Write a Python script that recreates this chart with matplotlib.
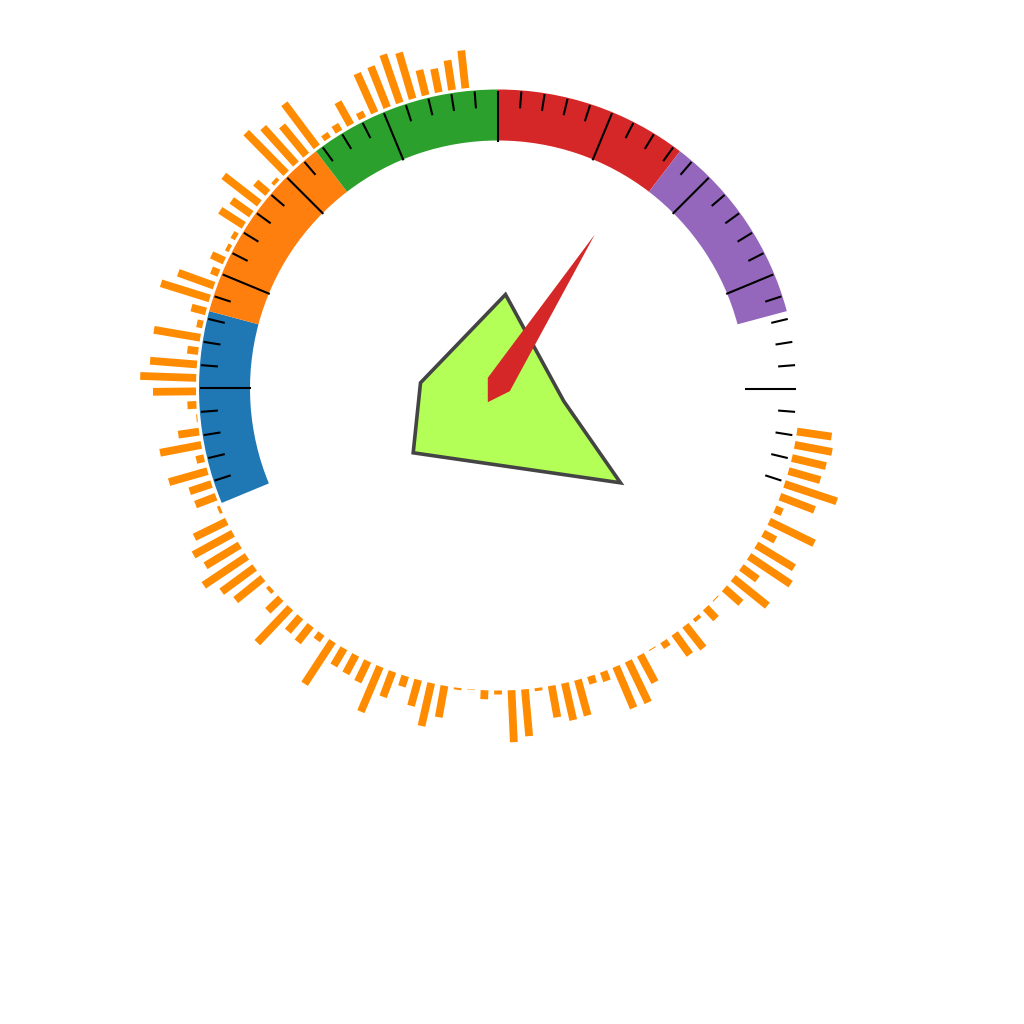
import numpy as np
import matplotlib
matplotlib.use("Agg")
from matplotlib import pyplot as plt
from matplotlib.patches import Wedge, Polygon

# --- data ---
# gauge scale: 225 degree sweep split into 6 equal bands (last one left blank)
band_edges = [202.5, 165.0, 127.5, 90.0, 52.5, 15.0, -22.5]
band_colors = ['#1f77b4', '#ff7f0e', '#2ca02c', '#d62728', '#9467bd', None]

# outer orange bars, lengths read going counter-clockwise from the top
bar_lengths = [38, 30, 24, 26, 48, 51, 44, 43, 7, 26, 8, 6, 54, 38, 49, 57, 4,
               16, 45, 24, 28, 5, 4, 14, 8, 38, 51, 15, 6, 47, 11, 47, 56, 43,
               9, 1, 21, 42, 8, 40, 23, 22, 3, 36, 45, 40, 52, 41, 35, 4, 18,
               48, 19, 21, 8, 51, 20, 21, 23, 49, 27, 11, 27, 44, 32, 2, 0.5,
               9, 4, 52, 47, 3, 32, 38, 37, 8, 10, 45, 46, 31, 1, 7, 26, 29,
               4, 15, 1, 22, 44, 20, 50, 44, 14, 50, 8, 37, 55, 33, 35, 38, 35]
bar_first_angle = 96.2
bar_last_angle = 351.8

# inner shape and needle (offsets from gauge centre, y up)
shape_x = [7.5, 65.8, 122.5, -84.8, -77.5]
shape_y = [94.0, -12.7, -94.3, -64.3, 5.7]
needle_x = [-10.2, 96.8, 11.8, -10.2]
needle_y = [10.7, 154.0, -2.7, -13.7]

# --- figure ---
fig = plt.figure(figsize=(10.24, 10.24), dpi=100)
ax = fig.add_axes([0, 0, 1, 1])
cx, cy = 498.0, 388.5  # centre in pixels (from top-left)
ax.set_xlim(-cx, 1024 - cx)
ax.set_ylim(-(1024 - cy), cy)
ax.set_aspect('equal')
ax.axis('off')

r_out = 299
r_in = 248

# coloured bands
for i, col in enumerate(band_colors):
    if col is None:
        continue
    ax.add_patch(Wedge((0, 0), r_out, band_edges[i + 1], band_edges[i],
                       width=r_out - r_in, facecolor=col, edgecolor='none'))

# ticks: major every 22.5, minor every 4.5 deg, ends left out
step = 4.5
for k in range(1, 50):
    a = np.deg2rad(band_edges[0] - k * step)
    r0 = r_in - 1 if k % 5 == 0 else 281
    ax.plot([r0 * np.cos(a), (r_out - 1) * np.cos(a)],
            [r0 * np.sin(a), (r_out - 1) * np.sin(a)],
            color='black', lw=1.5, solid_capstyle='butt')

# orange bars around the outside
angles = np.deg2rad(np.linspace(bar_first_angle, bar_last_angle, len(bar_lengths)))
r_base = 302
for a, L in zip(angles, bar_lengths):
    ax.plot([r_base * np.cos(a), (r_base + L) * np.cos(a)],
            [r_base * np.sin(a), (r_base + L) * np.sin(a)],
            color='#ff8c00', lw=5.6, solid_capstyle='butt')

# inner polygon
ax.add_patch(Polygon(np.column_stack([shape_x, shape_y]), closed=True,
                     facecolor='#b3ff57', edgecolor='#444444', lw=2.6,
                     joinstyle='miter'))

# needle
ax.add_patch(Polygon(np.column_stack([needle_x, needle_y]), closed=True,
                     facecolor='#d62728', edgecolor='none'))

fig.savefig('out.png', dpi=100, facecolor='white')
